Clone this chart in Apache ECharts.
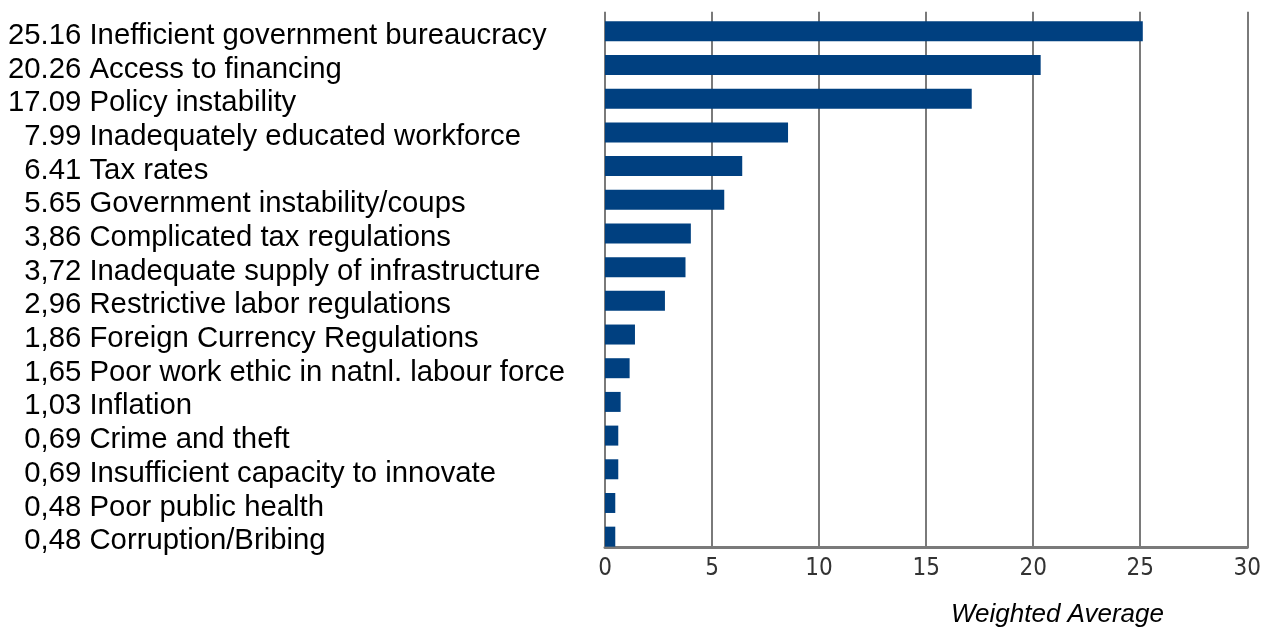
<!DOCTYPE html>
<html>
<head>
<meta charset="utf-8">
<script src="https://cdn.jsdelivr.net/npm/echarts@6/dist/echarts.min.js"></script>
<style>html,body{margin:0;padding:0;background:#fff;}#c{width:1264px;height:629px;}</style>
</head>
<body>
<div id="c"></div>
<script>
var categories = ["Inefficient government bureaucracy","Access to financing","Policy instability","Inadequately educated workforce","Tax rates","Government instability/coups","Complicated tax regulations","Inadequate supply of infrastructure","Restrictive labor regulations","Foreign Currency Regulations","Poor work ethic in natnl. labour force","Inflation","Crime and theft","Insufficient capacity to innovate","Poor public health","Corruption/Bribing"];
var labelNumbers = ["25.16","20.26","17.09","7.99","6.41","5.65","3,86","3,72","2,96","1,86","1,65","1,03","0,69","0,69","0,48","0,48"];
var barValues = [25.12,20.35,17.13,8.55,6.41,5.57,4.01,3.76,2.80,1.40,1.15,0.73,0.62,0.62,0.48,0.48];
var xTicks = [0,5,10,15,20,25,30];

var chart = echarts.init(document.getElementById('c'));
chart.setOption({
  animation: false,
  title: {
    text: 'Weighted Average', left: 946, top: 597,
    textStyle: {fontFamily: "'Liberation Sans', Arial, sans-serif", fontStyle: 'italic', fontWeight: 'normal', fontSize: 26, color: '#000'}
  },
  grid: {left: 605, right: 16, top: 14.5, height: 539},
  xAxis: {
    type: 'value', min: xTicks[0], max: xTicks[xTicks.length-1], interval: 5,
    offset: -5.8,
    axisLine: {show: true, lineStyle: {color: '#7a7a7a', width: 3}},
    axisTick: {show: true, inside: true, length: 536, lineStyle: {color: '#7a7a7a', width: 2}},
    splitLine: {show: false},
    axisLabel: {margin: 9, fontFamily: "'Liberation Sans Narrow', 'DejaVu Sans Condensed', 'Liberation Sans', sans-serif", fontSize: 24, color: '#333'}
  },
  yAxis: {
    type: 'category', inverse: true, data: categories,
    axisLine: {show: false}, axisTick: {show: false},
    axisLabel: {
      interval: 0, align: 'left', margin: 597, verticalAlign: 'top', lineHeight: 9,
      fontFamily: "'Liberation Sans', Arial, sans-serif", fontSize: 29.3, color: '#000',
      formatter: function (v, i) {
        var n = labelNumbers[i];
        var pad = n.length < 5 ? '  ' : '';
        return pad + n + ' ' + v;
      }
    }
  },
  series: [{
    type: 'bar', data: barValues, barWidth: 20,
    itemStyle: {color: '#004080'}
  }]
});
</script>
</body>
</html>
